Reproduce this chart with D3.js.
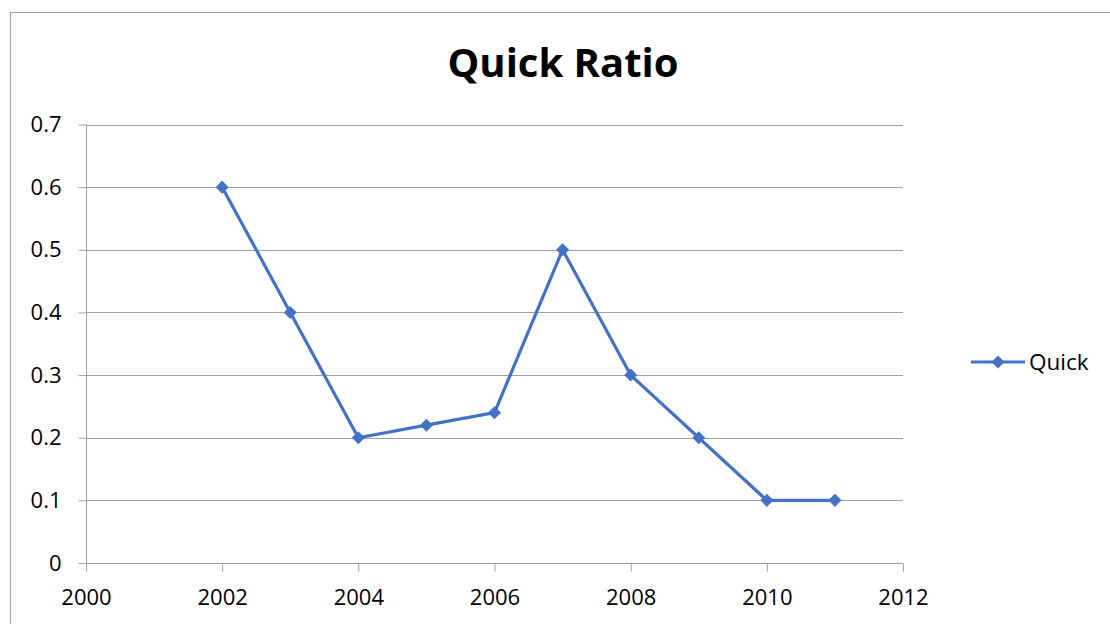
<!DOCTYPE html>
<html>
<head>
<meta charset="utf-8">
<script src="https://cdn.jsdelivr.net/npm/d3@7"></script>
<style>
  html, body { margin: 0; padding: 0; background: #fff; }
  svg { display: block; font-family: "Open Sans", "Noto Sans", sans-serif; }
</style>
</head>
<body>
<svg id="chart" width="1110" height="624"></svg>
<script>
// Quick ratio by year
const years = [2002, 2003, 2004, 2005, 2006, 2007, 2008, 2009, 2010, 2011];
const quick = [0.6, 0.4, 0.2, 0.22, 0.24, 0.5, 0.3, 0.2, 0.1, 0.1];
const xTicks = [2000, 2002, 2004, 2006, 2008, 2010, 2012];
const yTicks = [0, 0.1, 0.2, 0.3, 0.4, 0.5, 0.6, 0.7];
const seriesName = "Quick";
const titleText = "Quick Ratio";

const svg = d3.select("#chart");
const W = 1110, H = 624;
const plot = { left: 86, right: 903, top: 124.5, bottom: 563 };
const blue = "#4472C4";
const gridColor = "#a0a0a0";
const labelSize = 22;

// outer chart frame
svg.append("rect")
  .attr("x", 10.5).attr("y", 12.5)
  .attr("width", W + 10).attr("height", H)
  .attr("fill", "#fff")
  .attr("stroke", "#a0a0a0").attr("stroke-width", 1);

const x = d3.scaleLinear().domain([2000, 2012]).range([plot.left, plot.right]);
const y = d3.scaleLinear().domain([0, 0.7]).range([plot.bottom, plot.top]);

// horizontal gridlines
svg.append("g")
  .selectAll("line")
  .data(yTicks.filter(d => d > 0))
  .join("line")
  .attr("x1", plot.left).attr("x2", plot.right)
  .attr("y1", d => Math.round(y(d)) + 0.5).attr("y2", d => Math.round(y(d)) + 0.5)
  .attr("stroke", gridColor).attr("stroke-width", 1);

// y axis
const yAxis = svg.append("g")
  .attr("transform", `translate(${plot.left + 0.5},0)`)
  .call(d3.axisLeft(y).tickValues(yTicks).tickSize(8).tickPadding(17)
    .tickFormat(d => d === 0 ? "0" : d3.format(".1f")(d)));

// x axis
const xAxis = svg.append("g")
  .attr("transform", `translate(0,${Math.round(plot.bottom) + 0.5})`)
  .call(d3.axisBottom(x).tickValues(xTicks).tickSize(8).tickPadding(18)
    .tickFormat(d3.format("d")));

[yAxis, xAxis].forEach(a => {
  a.attr("font-size", labelSize).attr("font-family", "'Open Sans', sans-serif");
  a.selectAll("text").attr("fill", "#000");
  a.select(".domain").attr("stroke", gridColor);
  a.selectAll(".tick line").attr("stroke", gridColor);
});
xAxis.select(".domain").attr("d", `M${plot.left},0H${plot.right}`);
yAxis.select(".domain").attr("d", `M0,${plot.top}V${plot.bottom}`);

// series line
const pts = years.map((yr, i) => [yr, quick[i]]);
svg.append("path")
  .datum(pts)
  .attr("fill", "none")
  .attr("stroke", blue)
  .attr("stroke-width", 3.2)
  .attr("stroke-linejoin", "round")
  .attr("d", d3.line().x(d => x(d[0])).y(d => y(d[1])));

// diamond markers
const diamond = d3.symbol().type(d3.symbolSquare).size(85);
svg.append("g")
  .selectAll("path")
  .data(pts)
  .join("path")
  .attr("d", diamond)
  .attr("transform", d => `translate(${x(d[0])},${y(d[1])}) rotate(45)`)
  .attr("fill", blue);

// title
svg.append("text")
  .attr("x", 563).attr("y", 77)
  .attr("text-anchor", "middle")
  .attr("font-size", 40).attr("font-weight", "bold")
  .attr("font-family", "'Open Sans', sans-serif")
  .text(titleText);

// legend
const lg = svg.append("g").attr("transform", "translate(971,362)");
lg.append("line").attr("x1", 0).attr("x2", 54).attr("y1", 0).attr("y2", 0)
  .attr("stroke", blue).attr("stroke-width", 3.2);
lg.append("path").attr("d", diamond)
  .attr("transform", "translate(27,0) rotate(45)").attr("fill", blue);
lg.append("text").attr("x", 58).attr("y", 8)
  .attr("font-size", 22.5).attr("fill", "#000")
  .attr("font-family", "'Open Sans', sans-serif")
  .text(seriesName);
</script>
</body>
</html>
